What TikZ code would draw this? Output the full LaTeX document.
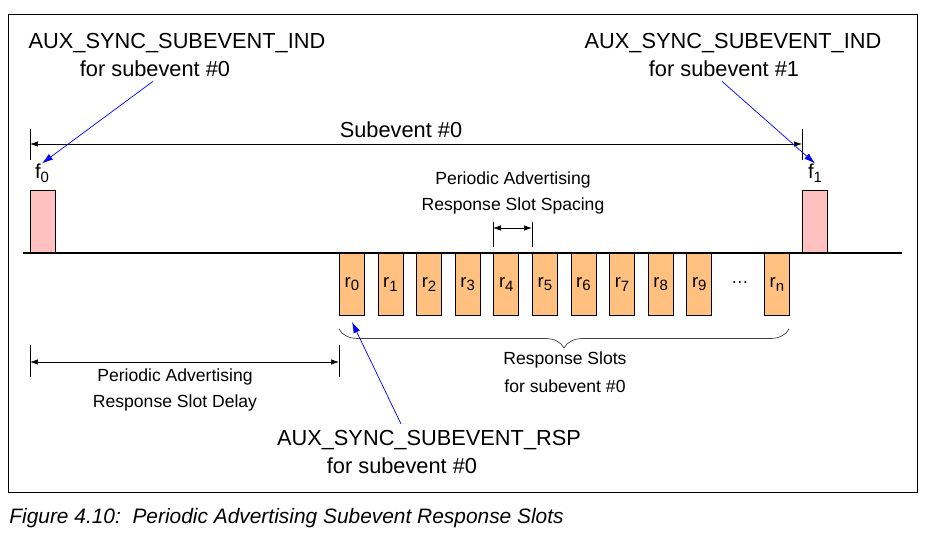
\documentclass[tikz,border=0pt]{standalone}
\usepackage{fontspec}
\setmainfont{Liberation Sans}
\usetikzlibrary{arrows.meta,positioning,decorations.pathreplacing}

\definecolor{slotfill}{HTML}{FFC080}
\definecolor{pulsefill}{HTML}{FFC0C0}

\newcommand{\lowidx}[1]{\raisebox{-0.35ex}{\fontsize{8.5}{10}\selectfont #1}}

\begin{document}
\begin{tikzpicture}[x=0.02cm, y=-0.02cm,
    big/.style={inner sep=0pt, font=\fontsize{12.4}{14}\selectfont},
    small/.style={inner sep=0pt, font=\fontsize{10}{12}\selectfont},
    slot/.style={draw, fill=slotfill, anchor=north west, minimum width=0.5cm, minimum height=1.24cm, inner sep=0pt, font=\fontsize{10.5}{12}\selectfont},
    pulse/.style={draw, fill=pulsefill, anchor=south west, minimum width=0.5cm, minimum height=1.24cm, inner sep=0pt},
    dim/.style={{Latex[length=1.6mm,width=1.1mm]}-{Latex[length=1.6mm,width=1.1mm]}},
    ptr/.style={blue, -{Latex[length=2.2mm,width=1.4mm]}}
  ]
    \useasboundingbox (0,0) rectangle (927,536);
    \draw (8,14) rectangle (917,492);

    % time axis
    \draw[line width=1.3pt] (23,253) coordinate (ax0) -- (902,253) coordinate (ax1);

    % subevent pulses
    \node[pulse] (pulse0) at (30,253) {};
    \node[pulse] (pulse1) at (802,253) {};
    \node[small, font=\fontsize{11.5}{13}\selectfont] (f0) at (42,173) {f\lowidx{0}};
    \node[small, font=\fontsize{11.5}{13}\selectfont] (f1) at (815,173) {f\lowidx{1}};

    % response slots
    \foreach \i in {0,...,9}
      \node[slot] (slot\i) at ({339+38.6*\i},253) {r\lowidx{\i}};
    \node[slot] (slotn) at (764,253) {r\lowidx{n}};
    \node[small] (dots) at (740,283) {\dots};

    % subevent length
    \draw (30,129) -- (30,160);
    \draw (802,129) -- (802,160);
    \draw[dim] (30,144) coordinate (se0) -- (802,144) coordinate (se1);
    \node[big] (selbl) at (401,130) {Subevent \#0};

    % slot spacing
    \draw (493,222) -- (493,247);
    \draw (532,222) -- (532,247);
    \draw[dim] (493,228) coordinate (sp0) -- (532,228) coordinate (sp1);
    \node[small] (sp) at (513,180) {Periodic Advertising};
    \node[small] (spb) at (513,206) {Response Slot Spacing};

    % slot delay
    \draw (30,345) -- (30,377);
    \draw (339,345) -- (339,377);
    \draw[dim] (30,362) coordinate (dl0) -- (339,362) coordinate (dl1);
    \node[small] (dl) at (175,377) {Periodic Advertising};
    \node[small] (dlb) at (175,403) {Response Slot Delay};

    % brace
    \draw[black!75, decorate, decoration={brace, mirror, amplitude=0.38cm}] (339,329) -- (789,329);
    \node[small] (rs) at (565,360) {Response Slots};
    \node[small] (rsb) at (565,386) {for subevent \#0};

    % PDU labels
    \node[big] (ind0) at (177,43) {AUX\_SYNC\_SUBEVENT\_IND};
    \node[big] (ind0b) at (155,69) {for subevent \#0};
    \node[big] (ind1) at (733,43) {AUX\_SYNC\_SUBEVENT\_IND};
    \node[big] (ind1b) at (724,69) {for subevent \#1};
    \node[big] (rsp) at (429,440) {AUX\_SYNC\_SUBEVENT\_RSP};
    \node[big] (rspb) at (402,466) {for subevent \#0};
    \coordinate (rspa) at (401,424);
    \coordinate (slot0a) at (352,322);

    \draw[ptr] (ind0b.south) ++(-2,4) -- (f0.north);
    \draw[ptr] (ind1b.south) ++(-2,4) -- (f1.north);
    \draw[ptr] (rspa) -- (slot0a);

    % caption
    \node[anchor=west, inner sep=0pt, font=\fontsize{11.9}{13}\selectfont\itshape] (cap) at (9,518) {Figure 4.10:\ \ Periodic Advertising Subevent Response Slots};
\end{tikzpicture}
\end{document}
